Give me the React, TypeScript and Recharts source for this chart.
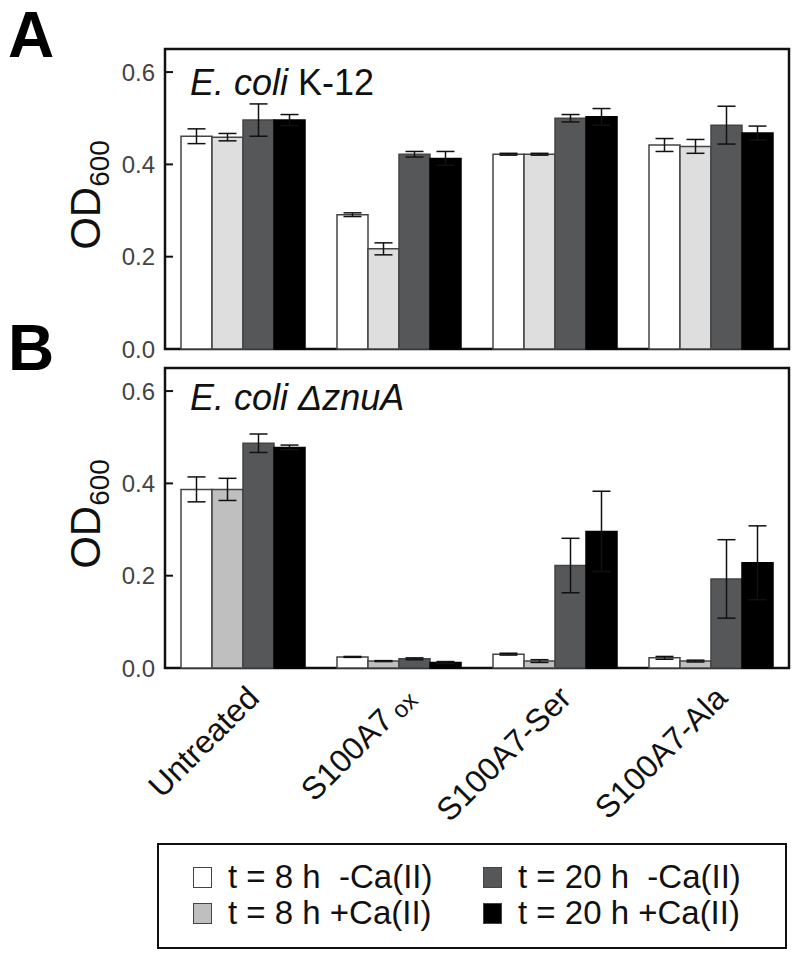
import React from 'react';
import { BarChart, Bar, XAxis, YAxis, ErrorBar, ReferenceArea } from 'recharts';

const FONT = '"Liberation Sans", Arial, Helvetica, sans-serif';

const categories = ['Untreated', 'S100A7ox', 'S100A7-Ser', 'S100A7-Ala'];
const seriesNames = ['t = 8 h  -Ca(II)', 't = 8 h +Ca(II)', 't = 20 h  -Ca(II)', 't = 20 h +Ca(II)'];
const yTicks = [0, 0.2, 0.4, 0.6];

// panel A: E. coli K-12
const k12_8h = [0.461, 0.291, 0.422, 0.442];
const k12_8hErr = [0.016, 0.004, 0.002, 0.014];
const k12_8hCa = [0.459, 0.217, 0.422, 0.439];
const k12_8hCaErr = [0.008, 0.013, 0.002, 0.015];
const k12_20h = [0.496, 0.422, 0.5, 0.485];
const k12_20hErr = [0.035, 0.006, 0.008, 0.041];
const k12_20hCa = [0.496, 0.413, 0.503, 0.468];
const k12_20hCaErr = [0.012, 0.015, 0.018, 0.015];

// panel B: E. coli dznuA
const znu_8h = [0.387, 0.024, 0.03, 0.022];
const znu_8hErr = [0.027, 0.001, 0.002, 0.003];
const znu_8hCa = [0.387, 0.015, 0.015, 0.015];
const znu_8hCaErr = [0.024, 0.001, 0.003, 0.002];
const znu_20h = [0.487, 0.02, 0.222, 0.193];
const znu_20hErr = [0.02, 0.002, 0.059, 0.085];
const znu_20hCa = [0.478, 0.012, 0.296, 0.228];
const znu_20hCaErr = [0.005, 0.002, 0.087, 0.08];

const colorsA = ['#ffffff', '#dedede', '#555759', '#000000'];
const colorsB = ['#ffffff', '#bfbfbf', '#555759', '#000000'];

const buildRows = (vals: number[][], errs: number[][]) =>
  categories.map((name, i) => {
    const row: any = { name };
    vals.forEach((v, s) => {
      row[`s${s}`] = v[i];
      row[`e${s}`] = errs[s][i];
    });
    return row;
  });

const dataA = buildRows(
  [k12_8h, k12_8hCa, k12_20h, k12_20hCa],
  [k12_8hErr, k12_8hCaErr, k12_20hErr, k12_20hCaErr]
);
const dataB = buildRows(
  [znu_8h, znu_8hCa, znu_20h, znu_20hCa],
  [znu_8hErr, znu_8hCaErr, znu_20hErr, znu_20hCaErr]
);

const YTick = (props: any) => {
  const { x, y, payload } = props;
  return (
    <g>
      <line x1={x} x2={x + 8} y1={y} y2={y} stroke="#111" strokeWidth={2} />
      <text x={x - 10} y={y + 8.5} textAnchor="end" fontSize={24} fill="#444" fontFamily={FONT}>
        {Number(payload.value).toFixed(1)}
      </text>
    </g>
  );
};

const XTick = (props: any) => {
  const { x, y, payload } = props;
  const ax = x + 18;
  const ay = y + 32;
  const label: string = payload.value;
  return (
    <text
      x={ax}
      y={ay}
      transform={`rotate(-45 ${ax} ${ay})`}
      textAnchor="end"
      fontSize={32}
      fill="#111"
      fontFamily={FONT}
    >
      {label === 'S100A7ox' ? (
        <>
          S100A7
          <tspan fontSize={24} dx={6} dy={3}>ox</tspan>
        </>
      ) : (
        label
      )}
    </text>
  );
};

const OdLabel = (props: any) => {
  const { viewBox } = props;
  const cx = 100;
  const cy = viewBox.y + viewBox.height / 2 - 4;
  return (
    <text
      x={cx}
      y={cy}
      transform={`rotate(-90 ${cx} ${cy})`}
      textAnchor="middle"
      fontSize={42}
      fill="#111"
      fontFamily={FONT}
    >
      OD<tspan fontSize={28} dy={9}>600</tspan>
    </text>
  );
};

const Panel = ({ data, colors, height, margin, showX }: any) => (
  <BarChart
    width={800}
    height={height}
    data={data}
    margin={margin}
    barCategoryGap={16}
    barGap={0}
  >
    <XAxis
      dataKey="name"
      hide={!showX}
      height={172}
      axisLine={false}
      tickLine={false}
      tickSize={0}
      tickMargin={0}
      interval={0}
      tick={<XTick />}
    />
    <YAxis
      width={165}
      domain={[0, 0.65]}
      ticks={yTicks}
      axisLine={false}
      tickLine={false}
      tickSize={0}
      tickMargin={0}
      tick={<YTick />}
      label={<OdLabel />}
    />
    {seriesNames.map((n, s) => (
      <Bar
        key={n}
        dataKey={`s${s}`}
        name={n}
        fill={colors[s]}
        stroke={s === 3 ? '#000' : '#444'}
        strokeWidth={1.5}
        isAnimationActive={false}
      >
        <ErrorBar dataKey={`e${s}`} width={9} stroke="#111" strokeWidth={1.5} direction="y" />
      </Bar>
    ))}
    <ReferenceArea y1={0} y2={0.65} fill="none" stroke="#111" strokeWidth={2.5} ifOverflow="visible" />
  </BarChart>
);

const Legend = () => (
  <div
    style={{
      position: 'absolute',
      left: 157,
      top: 843,
      width: 626,
      height: 102,
      border: '2.5px solid #111',
      fontFamily: FONT,
      fontSize: 33,
      color: '#111',
    }}
  >
    {seriesNames.map((n, s) => (
      <div
        key={n}
        style={{
          position: 'absolute',
          left: s < 2 ? 34 : 324,
          top: s % 2 === 0 ? 14 : 50,
          display: 'flex',
          alignItems: 'center',
          whiteSpace: 'pre',
          lineHeight: '36px',
        }}
      >
        <span
          style={{
            display: 'inline-block',
            width: 17,
            height: 19,
            background: colorsB[s],
            border: '1.5px solid #444',
            marginRight: 16,
          }}
        />
        {n}
      </div>
    ))}
  </div>
);

export default function App() {
  return (
    <div style={{ position: 'absolute', left: 0, top: 0, width: 800, height: 963, background: '#fff' }}>
      <div style={{ position: 'absolute', left: 0, top: 0 }}>
        <Panel data={dataA} colors={colorsA} height={368} margin={{ top: 49, right: 11, bottom: 19, left: 0 }} showX={false} />
      </div>
      <div style={{ position: 'absolute', left: 0, top: 360 }}>
        <Panel data={dataB} colors={colorsB} height={480} margin={{ top: 8, right: 11, bottom: 0, left: 0 }} showX />
      </div>
      <svg
        width={800}
        height={963}
        style={{ position: 'absolute', left: 0, top: 0, pointerEvents: 'none' }}
        fontFamily={FONT}
      >
        <text x={8} y={57} fontSize={64} fontWeight="bold" fill="#000">A</text>
        <text x={8} y={370} fontSize={64} fontWeight="bold" fill="#000">B</text>
        <text x={190} y={95} fontSize={36} fill="#111">
          <tspan fontStyle="italic">E. coli</tspan> K-12
        </text>
        <text x={190} y={410} fontSize={36} fill="#111" fontStyle="italic">
          E. coli ΔznuA
        </text>
      </svg>
      <Legend />
    </div>
  );
}
